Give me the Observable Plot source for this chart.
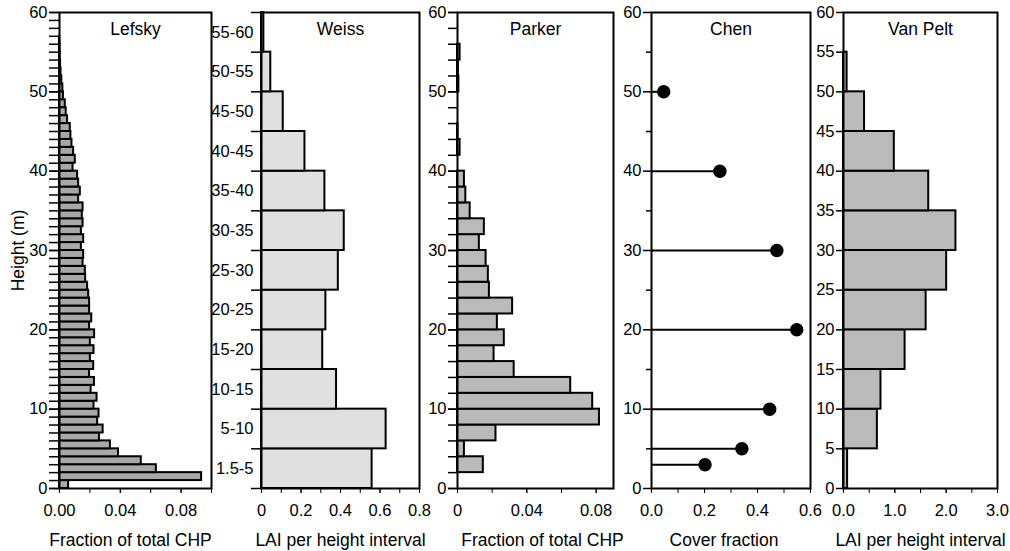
<!DOCTYPE html>
<html>
<head>
<meta charset="utf-8">
<script src="https://cdn.jsdelivr.net/npm/d3@7"></script>
<script src="https://cdn.jsdelivr.net/npm/@observablehq/plot@0.6"></script>
<style>
  html, body { margin: 0; padding: 0; background: white; }
  #chart { position: relative; width: 1010px; height: 551px; }
  #chart svg { position: absolute; left: 0; top: 0; }
</style>
</head>
<body>
<div id="chart"></div>
<script>
// ---- Data ----
// Lefsky: 1 m height bins (lower edge), fraction of total CHP
const lefskyHeights = d3.range(0, 57, 1);
const lefskyValues = [
  0.006, 0.0935, 0.0637, 0.0538, 0.0388, 0.0335, 0.0263, 0.0287, 0.0251, 0.026,
  0.0227, 0.0247, 0.0208, 0.023, 0.0198, 0.0225, 0.0203, 0.0227, 0.0203, 0.0231,
  0.0198, 0.0212, 0.0198, 0.0198, 0.0192, 0.0185, 0.0172, 0.017, 0.0155, 0.0159,
  0.0144, 0.0159, 0.0144, 0.0155, 0.015, 0.0155, 0.0126, 0.0137, 0.0126, 0.0119,
  0.0089, 0.0104, 0.0093, 0.0082, 0.0075, 0.0071, 0.0053, 0.0044, 0.0038, 0.0026,
  0.0022, 0.0015, 0.001, 0.0007, 0.0004, 0.0003, 0.0002
];
// Weiss: height classes (bottom to top), LAI per height interval
const weissClasses = ["1.5-5", "5-10", "10-15", "15-20", "20-25", "25-30", "30-35", "35-40", "40-45", "45-50", "50-55", "55-60"];
const weissValues = [0.56, 0.631, 0.38, 0.31, 0.326, 0.389, 0.419, 0.321, 0.22, 0.11, 0.047, 0.012];
// Parker: 2 m bins (lower edge), fraction of total CHP
const parkerHeights = [0, 2, 4, 6, 8, 10, 12, 14, 16, 18, 20, 22, 24, 26, 28, 30, 32, 34, 36, 38, 40, 42, 44, 46, 48, 50, 52, 54];
const parkerValues = [0, 0.0149, 0.004, 0.0222, 0.0819, 0.078, 0.0653, 0.0327, 0.0211, 0.027, 0.023, 0.0318, 0.0184, 0.0178, 0.0165, 0.0126, 0.0155, 0.0073, 0.0048, 0.004, 0, 0.0015, 0.0003, 0, 0, 0.0008, 0.0005, 0.0015];
// Chen: heights and cover fraction
const chenHeights = [3, 5, 10, 20, 30, 40, 50];
const chenValues = [0.202, 0.341, 0.446, 0.548, 0.473, 0.258, 0.046];
// Van Pelt: 5 m bins (lower edge), LAI per height interval
const vanPeltHeights = [0, 5, 10, 15, 20, 25, 30, 35, 40, 45, 50];
const vanPeltValues = [0.08, 0.66, 0.73, 1.2, 1.61, 2.01, 2.19, 1.66, 0.99, 0.41, 0.07];

// ---- Layout ----
const W = 1010, H = 551, TOP = 12, BOTTOM = 488;
const FONT = "'Liberation Sans', Arial, Helvetica, sans-serif";

function panel({left, right, xDomain, yDomain, marks}) {
  return Plot.plot({
    width: W, height: H,
    marginLeft: left, marginRight: W - right,
    marginTop: TOP, marginBottom: H - BOTTOM,
    x: {domain: xDomain, label: null},
    y: {domain: yDomain, label: null},
    style: {background: "transparent", fontSize: "16.5px", fontFamily: FONT, color: "black", overflow: "visible"},
    marks
  });
}
function xTitle(t, dx = 0) { return Plot.text([t], {text: d => d, frameAnchor: "bottom", dy: 52, dx, fontSize: 17.5, lineAnchor: "middle", textAnchor: "middle"}); }
function pTitle(t) { return Plot.text([t], {text: d => d, frameAnchor: "top", dy: 17, fontSize: 17.5, lineAnchor: "middle", textAnchor: "middle"}); }
const frame = Plot.frame({stroke: "black", strokeWidth: 2});
const TP = 11;

const chart = document.getElementById("chart");

// Lefsky
const lefsky = lefskyHeights.map((h, i) => ({lo: h, hi: h + 1, v: lefskyValues[i]}));
chart.append(panel({
  left: 59, right: 211, xDomain: [0, 0.1], yDomain: [0, 60],
  marks: [
    Plot.rect(lefsky, {x1: 0, x2: "v", y1: "lo", y2: "hi", fill: "#a8a8a8", stroke: "black", strokeWidth: 2}),
    Plot.axisY({ticks: d3.range(0, 61, 1), tickSize: 10, tickFormat: () => "", strokeWidth: 1.5}),
    Plot.axisY({ticks: d3.range(0, 61, 10), tickSize: 10, tickPadding: 2, tickFormat: d => d, strokeWidth: 1.5}),
    Plot.axisX({ticks: [0, 0.02, 0.04, 0.06, 0.08, 0.1], tickSize: 5, tickFormat: () => ""}),
    Plot.axisX({ticks: [0, 0.04, 0.08], tickSize: 5, tickPadding: TP, tickFormat: d => d.toFixed(2)}),
    frame,
    pTitle("Lefsky"),
    xTitle("Fraction of total CHP", -5),
    Plot.text(["Height (m)"], {text: d => d, frameAnchor: "left", dx: -41, rotate: -90, fontSize: 17.5, textAnchor: "middle", lineAnchor: "middle"})
  ]
}));

// Weiss
const weiss = weissClasses.map((c, i) => ({lo: i, hi: i + 1, v: weissValues[i]}));
chart.append(panel({
  left: 261, right: 419, xDomain: [0, 0.8], yDomain: [0, weissClasses.length],
  marks: [
    Plot.rect(weiss, {x1: 0, x2: "v", y1: "lo", y2: "hi", fill: "#e0e0e0", stroke: "black", strokeWidth: 2}),
    Plot.axisY({ticks: d3.range(0, weissClasses.length + 1), tickSize: 10, tickFormat: () => "", strokeWidth: 1.5}),
    Plot.axisY({ticks: weissClasses.map((c, i) => i + 0.5), tickSize: 0, tickPadding: 8, tickFormat: d => weissClasses[Math.floor(d)]}),
    Plot.axisX({ticks: d3.range(0, 0.81, 0.1), tickSize: 5, tickFormat: () => ""}),
    Plot.axisX({ticks: [0, 0.2, 0.4, 0.6, 0.8], tickSize: 5, tickPadding: TP, tickFormat: d => d === 0 ? "0" : d.toFixed(1)}),
    frame,
    pTitle("Weiss"),
    xTitle("LAI per height interval")
  ]
}));

// Parker
const parker = parkerHeights.map((h, i) => ({lo: h, hi: h + 2, v: parkerValues[i]})).filter(d => d.v > 0);
chart.append(panel({
  left: 457, right: 613, xDomain: [0, 0.09], yDomain: [0, 60],
  marks: [
    Plot.rect(parker, {x1: 0, x2: "v", y1: "lo", y2: "hi", fill: "#bababa", stroke: "black", strokeWidth: 2}),
    Plot.axisY({ticks: d3.range(0, 61, 2), tickSize: 9, tickFormat: () => "", strokeWidth: 1.5}),
    Plot.axisY({ticks: d3.range(0, 61, 10), tickSize: 9, tickPadding: 2, tickFormat: d => d, strokeWidth: 1.5}),
    Plot.axisX({ticks: [0, 0.02, 0.04, 0.06, 0.08], tickSize: 5, tickFormat: () => ""}),
    Plot.axisX({ticks: [0, 0.04, 0.08], tickSize: 5, tickPadding: TP, tickFormat: d => d === 0 ? "0" : d.toFixed(2)}),
    frame,
    pTitle("Parker"),
    xTitle("Fraction of total CHP", 7)
  ]
}));

// Chen
const chen = chenHeights.map((h, i) => ({h, v: chenValues[i]}));
chart.append(panel({
  left: 651, right: 810, xDomain: [0, 0.6], yDomain: [0, 60],
  marks: [
    Plot.ruleY(chen, {y: "h", x1: 0, x2: "v", stroke: "black", strokeWidth: 2}),
    Plot.dot(chen, {x: "v", y: "h", r: 6, fill: "black", stroke: "black"}),
    Plot.axisY({ticks: d3.range(5, 60, 10), tickSize: 5, tickFormat: () => "", strokeWidth: 1.5}),
    Plot.axisY({ticks: d3.range(0, 61, 10), tickSize: 8, tickPadding: 2, tickFormat: d => d, strokeWidth: 1.5}),
    Plot.axisX({ticks: d3.range(0, 0.61, 0.1), tickSize: 5, tickFormat: () => ""}),
    Plot.axisX({ticks: [0, 0.2, 0.4, 0.6], tickSize: 5, tickPadding: TP, tickFormat: d => d.toFixed(1)}),
    frame,
    pTitle("Chen"),
    xTitle("Cover fraction", -7)
  ]
}));

// Van Pelt
const vanPelt = vanPeltHeights.map((h, i) => ({lo: h, hi: h + 5, v: vanPeltValues[i]}));
chart.append(panel({
  left: 843, right: 997, xDomain: [0, 3], yDomain: [0, 60],
  marks: [
    Plot.rect(vanPelt, {x1: 0, x2: "v", y1: "lo", y2: "hi", fill: "#bababa", stroke: "black", strokeWidth: 2}),
    Plot.axisY({ticks: d3.range(0, 61, 5), tickSize: 7, tickPadding: 2, tickFormat: d => d, strokeWidth: 1.5}),
    Plot.axisX({ticks: d3.range(0, 3.01, 0.5), tickSize: 5, tickFormat: () => ""}),
    Plot.axisX({ticks: [0, 1, 2, 3], tickSize: 5, tickPadding: TP, tickFormat: d => d.toFixed(1)}),
    frame,
    pTitle("Van Pelt"),
    xTitle("LAI per height interval")
  ]
}));
</script>
</body>
</html>
